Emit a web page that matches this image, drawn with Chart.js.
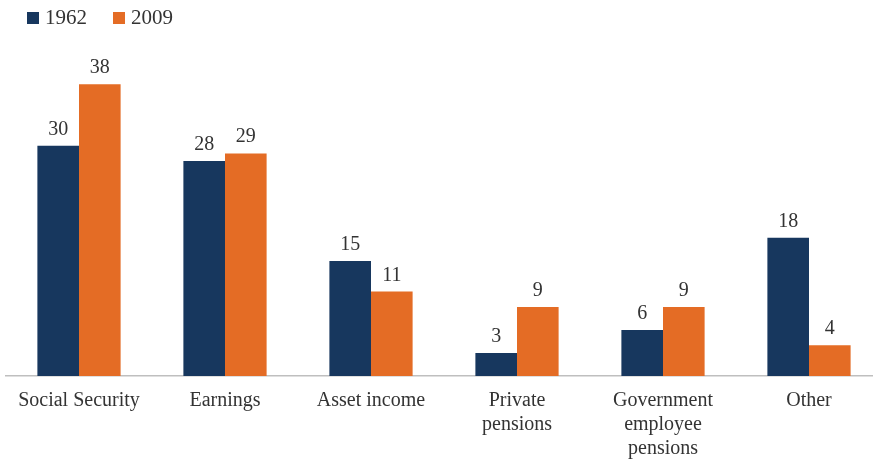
<!DOCTYPE html>
<html>
<head>
<meta charset="utf-8">
<script src="https://cdn.jsdelivr.net/npm/chart.js@4/dist/chart.umd.min.js"></script>
<style>
  html, body { margin: 0; padding: 0; background: #fff; overflow: hidden; }
  #wrap { position: relative; width: 882px; height: 462px; }
  #legend { position: absolute; left: 27px; top: 5px; font-family: "Liberation Serif", serif; font-size: 21px; color: #333; display: flex; align-items: center; }
  #legend .item { display: flex; align-items: center; margin-right: 26px; }
  #legend .sw { width: 12px; height: 12px; margin-right: 6px; }
</style>
</head>
<body>
<div id="wrap">
  <canvas id="c" width="882" height="462"></canvas>
  <div id="legend"></div>
</div>
<script>
const categories = [["Social Security"], ["Earnings"], ["Asset income"], ["Private", "pensions"], ["Government", "employee", "pensions"], ["Other"]];
const seriesNames = ["1962", "2009"];
const values1962 = [30, 28, 15, 3, 6, 18];
const values2009 = [38, 29, 11, 9, 9, 4];
const colors = ["#17375E", "#E46C25"];

const legend = document.getElementById('legend');
seriesNames.forEach((n, i) => {
  const it = document.createElement('div');
  it.className = 'item';
  it.innerHTML = '<span class="sw" style="background:' + colors[i] + '"></span><span>' + n + '</span>';
  legend.appendChild(it);
});

const labelPlugin = {
  id: 'barLabels',
  afterDatasetsDraw(chart) {
    const ctx = chart.ctx;
    ctx.save();
    ctx.font = '20px "Liberation Serif", serif';
    ctx.fillStyle = '#333';
    ctx.textAlign = 'center';
    ctx.textBaseline = 'alphabetic';
    chart.data.datasets.forEach((ds, di) => {
      chart.getDatasetMeta(di).data.forEach((bar, i) => {
        ctx.fillText(String(ds.data[i]), bar.x, bar.y - 11);
      });
    });
    ctx.restore();
  }
};

new Chart(document.getElementById('c'), {
  type: 'bar',
  data: {
    labels: categories,
    datasets: [
      { label: seriesNames[0], data: values1962, backgroundColor: colors[0] },
      { label: seriesNames[1], data: values2009, backgroundColor: colors[1] }
    ]
  },
  options: {
    responsive: false,
    animation: false,
    devicePixelRatio: 1,
    layout: { padding: { top: 69, left: 6, right: 0, bottom: 0 } },
    datasets: { bar: { barPercentage: 1, categoryPercentage: 0.57 } },
    plugins: { legend: { display: false }, tooltip: { enabled: false } },
    scales: {
      x: {
        grid: { display: false, drawTicks: false },
        border: { display: true, color: '#BFBFBF', width: 1.5 },
        ticks: { color: '#333', font: { family: '"Liberation Serif", serif', size: 20, lineHeight: 1.2 }, padding: 13, maxRotation: 0, autoSkip: false },
        afterFit(scale) { scale.height = 86; }
      },
      y: { display: false, min: 0, max: 40 }
    }
  },
  plugins: [labelPlugin]
});
</script>
</body>
</html>
